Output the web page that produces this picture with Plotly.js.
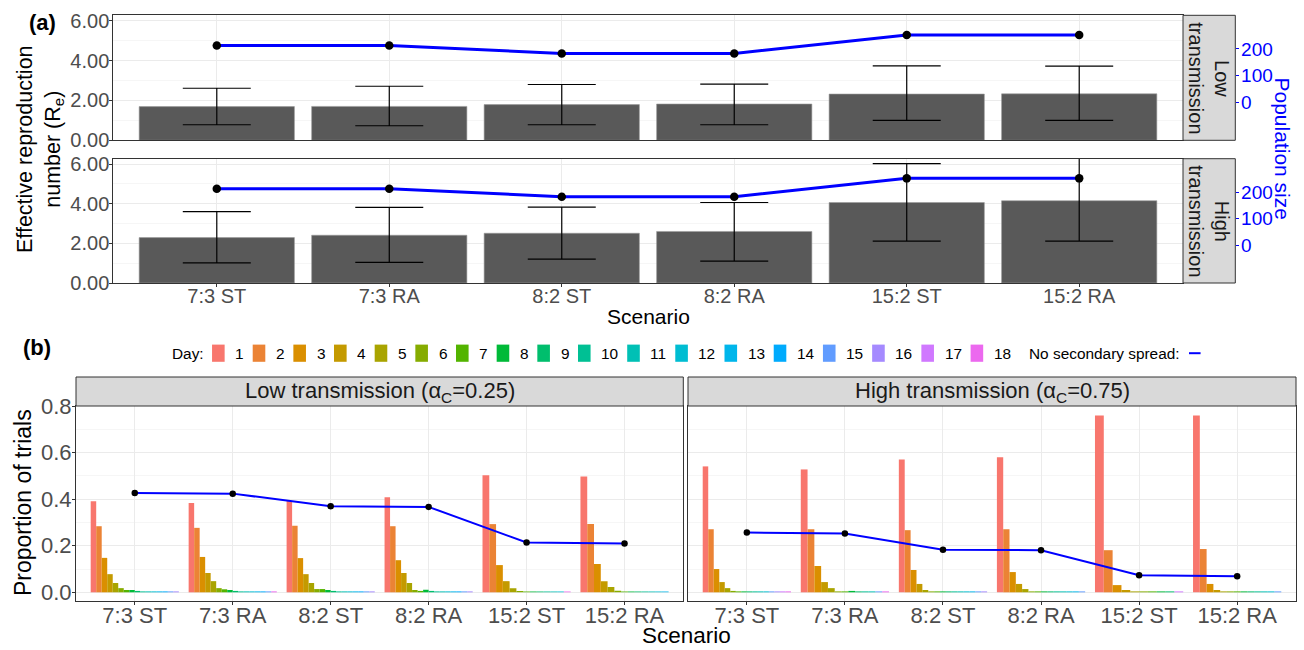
<!DOCTYPE html>
<html><head><meta charset="utf-8">
<script src="https://cdn.plot.ly/plotly-3.0.1.min.js"></script>
<style>body{margin:0;background:#fff}#chart{width:1304px;height:650px}</style>
</head><body><div id="chart"></div>
<script>
// ---------------- DATA ----------------
const scenarios = ['7:3 ST','7:3 RA','8:2 ST','8:2 RA','15:2 ST','15:2 RA'];
// panel (a): effective reproduction number
const reLow      = [1.69, 1.70, 1.79, 1.82, 2.32, 2.33];
const reLowUpper = [2.61, 2.71, 2.80, 2.82, 3.73, 3.72];
const reLowLower = [0.78, 0.73, 0.78, 0.78, 1.00, 1.00];
const reHigh      = [2.29, 2.41, 2.51, 2.60, 4.06, 4.15];
const reHighUpper = [3.60, 3.81, 3.83, 4.06, 6.02, 6.45];
const reHighLower = [1.02, 1.04, 1.20, 1.10, 2.11, 2.11];
const popSize = [213, 213, 183, 183, 252, 252];
// panel (b): proportion of trials by day of first secondary spread
const dayLabels = ['1','2','3','4','5','6','7','8','9','10','11','12','13','14','15','16','17','18'];
const low_73ST  = [0.391,0.284,0.148,0.078,0.040,0.018,0.010,0.010,0.006,0.004,0.004,0.004,0.004,0.004,0.004,0.004,null,null];
const low_73RA  = [0.384,0.277,0.152,0.083,0.048,0.018,0.013,0.010,0.006,0.004,0.004,0.004,0.004,0.004,0.004,null,null,0.004];
const low_82ST  = [0.392,0.286,0.147,0.078,0.040,0.014,0.014,0.010,0.006,0.004,0.004,0.004,0.004,0.004,0.004,0.004,null,null];
const low_82RA  = [0.408,0.284,0.138,0.083,0.040,0.010,0.006,0.011,0.006,0.004,0.004,0.004,0.004,0.004,0.004,0.004,null,null];
const low_152ST = [0.503,0.293,0.117,0.048,0.018,0.006,0.004,0.004,0.004,0.004,0.004,0.004,null,null,null,null,null,0.004];
const low_152RA = [0.498,0.293,0.122,0.048,0.023,0.007,0.004,0.004,0.004,0.004,0.004,0.004,0.004,null,null,null,null,null];
const high_73ST  = [0.541,0.271,0.100,0.044,0.018,0.006,0.004,0.004,0.004,0.004,0.004,0.004,null,null,0.004,0.004,0.004,0.004];
const high_73RA  = [0.528,0.271,0.113,0.044,0.018,0.004,0.004,0.006,0.004,0.004,0.004,null,null,null,0.004,null,null,0.004];
const high_82ST  = [0.571,0.267,0.096,0.036,0.010,0.004,0.004,0.004,0.004,0.004,0.004,0.004,0.004,null,0.004,0.004,null,null];
const high_82RA  = [0.580,0.271,0.087,0.036,0.014,0.004,0.004,0.004,0.004,0.004,0.004,0.004,0.004,null,0.004,null,null,null];
const high_152ST = [0.760,0.181,0.031,0.010,0.004,0.004,0.004,0.004,0.004,null,null,null,null,null,null,null,0.004,null];
const high_152RA = [0.760,0.186,0.036,0.010,0.004,0.004,0.004,0.004,0.004,0.004,0.004,0.004,null,null,0.004,null,null,null];
const noSpreadLow  = [0.427, 0.424, 0.370, 0.367, 0.214, 0.210];
const noSpreadHigh = [0.257, 0.253, 0.183, 0.181, 0.073, 0.069];

// ---------------- HELPERS ----------------
const W = 1304, H = 650;
const fx = p => p / W, fy = p => 1 - p / H;
const FONT = 'Liberation Sans, Arial, sans-serif';
const TICKC = '#4D4D4D', LINEC = '#333333', GRID = '#EBEBEB', MINOR = '#F4F4F4';

function hcl2hex(h, c, l) {
  const hr = h * Math.PI / 180;
  const U = c * Math.cos(hr), V = c * Math.sin(hr);
  const Y = l > 8 ? Math.pow((l + 16) / 116, 3) : l / 903.3;
  const un = 0.1978398, vn = 0.4683363;
  const u = U / (13 * l) + un, v = V / (13 * l) + vn;
  const X = 9 * Y * u / (4 * v);
  const Z = Y * (12 - 3 * u - 20 * v) / (4 * v);
  const lin = [3.240479*X - 1.537150*Y - 0.498535*Z,
              -0.969256*X + 1.875992*Y + 0.041556*Z,
               0.055648*X - 0.204043*Y + 1.057311*Z];
  return '#' + lin.map(t => {
    let g = t <= 0.0031308 ? 12.92 * t : 1.055 * Math.pow(Math.max(t,0), 1/2.4) - 0.055;
    g = Math.min(1, Math.max(0, g));
    return Math.round(g * 255).toString(16).padStart(2, '0');
  }).join('');
}
const dayColors = dayLabels.map((d, i) => hcl2hex(15 + i * 360 / 21, 100, 65));

// ---------------- TRACES ----------------
const traces = [];
const barA = (y, up, lo, xa, ya) => ({
  type: 'bar', x: scenarios, y: y, width: 0.9, xaxis: xa, yaxis: ya,
  marker: {color: '#595959', line: {color: '#9a9a9a', width: 0.6}},
  error_y: {type: 'data', symmetric: false,
    array: up.map((u, i) => u - y[i]), arrayminus: lo.map((l, i) => y[i] - l),
    color: '#000', thickness: 1.2, width: 34},
  showlegend: false, hoverinfo: 'skip'
});
traces.push(barA(reLow, reLowUpper, reLowLower, 'x', 'y'));
traces.push(barA(reHigh, reHighUpper, reHighLower, 'x2', 'y3'));
const popTrace = (xa, ya) => ({
  type: 'scatter', mode: 'lines+markers', x: scenarios, y: popSize, xaxis: xa, yaxis: ya,
  line: {color: '#0000FF', width: 3}, marker: {color: '#000', size: 8.5},
  showlegend: false, hoverinfo: 'skip'
});
traces.push(popTrace('x', 'y2'));
traces.push(popTrace('x2', 'y4'));

function dayBars(series, xa, ya) {
  dayLabels.forEach((lab, d) => {
    const t = {type: 'bar', x: [], y: [], width: [], offset: [], xaxis: xa, yaxis: ya,
      marker: {color: dayColors[d]}, showlegend: false, hoverinfo: 'skip', name: lab};
    series.forEach((arr, s) => {
      if (arr[d] === null) return;
      const present = arr.map((v, i) => v === null ? -1 : i).filter(i => i >= 0);
      const n = present.length, k = present.indexOf(d), w = 0.9 / n;
      t.x.push(scenarios[s]); t.y.push(arr[d]); t.width.push(w); t.offset.push(-0.45 + k * w);
    });
    traces.push(t);
  });
}
dayBars([low_73ST, low_73RA, low_82ST, low_82RA, low_152ST, low_152RA], 'x3', 'y5');
dayBars([high_73ST, high_73RA, high_82ST, high_82RA, high_152ST, high_152RA], 'x4', 'y6');
const spreadTrace = (y, xa, ya) => ({
  type: 'scatter', mode: 'lines+markers', x: scenarios, y: y, xaxis: xa, yaxis: ya,
  line: {color: '#0000FF', width: 2}, marker: {color: '#000', size: 6.5},
  showlegend: false, hoverinfo: 'skip'
});
traces.push(spreadTrace(noSpreadLow, 'x3', 'y5'));
traces.push(spreadTrace(noSpreadHigh, 'x4', 'y6'));

// ---------------- AXES ----------------
const popOffset = 1.9, popPerRe = 74.6;
const reRange = [0, 6.27];
const popRange = reRange.map(r => (r - popOffset) * popPerRe);
const xBase = (dom, anchor, labels, size) => ({
  domain: dom, anchor: anchor, type: 'category', categoryorder: 'array', categoryarray: scenarios,
  range: [-0.6, 5.6], showgrid: true, gridcolor: GRID, gridwidth: 1, zeroline: false,
  showline: true, mirror: true, linecolor: LINEC, linewidth: 1,
  showticklabels: labels, ticks: labels ? 'outside' : '', ticklen: 3, tickcolor: LINEC,
  ticklabelstandoff: -8,
  tickfont: {size: size, color: TICKC, family: FONT}, fixedrange: true
});
const yRe = (dom, anchor) => ({
  domain: dom, anchor: anchor, range: reRange, tickvals: [0, 2, 4, 6], tickformat: '.2f',
  ticks: 'outside', ticklen: 3, tickcolor: LINEC, tickfont: {size: 20, color: TICKC, family: FONT},
  ticklabelstandoff: -4,
  showgrid: true, gridcolor: GRID, gridwidth: 1, zeroline: false,
  minor: {tick0: 0, dtick: 1, showgrid: true, gridcolor: MINOR, gridwidth: 0.8, ticks: ''},
  showline: true, mirror: true, linecolor: LINEC, linewidth: 1, fixedrange: true
});
const yPop = (over) => ({
  overlaying: over, side: 'right', anchor: 'free', position: fx(1235.3),
  range: popRange, tickvals: [0, 100, 200], ticks: 'outside', ticklen: 3, tickcolor: '#0000FF',
  ticklabelstandoff: -2,
  tickfont: {size: 19, color: '#0000FF', family: FONT}, showgrid: false, zeroline: false,
  showline: false, fixedrange: true
});
const yProp = (dom, anchor, labels) => ({
  domain: dom, anchor: anchor, range: [-0.0373, 0.8005], tick0: 0, dtick: 0.2, tickformat: '.1f',
  showticklabels: labels, ticks: labels ? 'outside' : '', ticklen: 3, tickcolor: LINEC,
  ticklabelstandoff: -4,
  tickfont: {size: 22, color: TICKC, family: FONT},
  showgrid: true, gridcolor: GRID, gridwidth: 1, zeroline: false,
  minor: {tick0: 0, dtick: 0.1, showgrid: true, gridcolor: MINOR, gridwidth: 0.8, ticks: ''},
  showline: true, mirror: true, linecolor: LINEC, linewidth: 1, fixedrange: true
});

const domA = [fx(113.3), fx(1182.7)];
const layout = {
  width: W, height: H, margin: {l: 0, r: 0, t: 0, b: 0},
  paper_bgcolor: '#fff', plot_bgcolor: '#fff', font: {family: FONT, color: '#000'},
  barmode: 'overlay', bargap: 0.1, hovermode: false, showlegend: false,
  xaxis:  xBase(domA, 'y', false, 20),
  yaxis:  yRe([fy(140.3), fy(15.3)], 'x'),
  yaxis2: yPop('y'),
  xaxis2: xBase(domA, 'y3', true, 20),
  yaxis3: yRe([fy(283), fy(158.7)], 'x2'),
  yaxis4: yPop('y3'),
  xaxis3: xBase([fx(76), fx(683.3)], 'y5', true, 22),
  yaxis5: yProp([fy(601), fy(406)], 'x3', true),
  xaxis4: xBase([fx(688), fx(1296)], 'y6', true, 22),
  yaxis6: yProp([fy(601), fy(406)], 'x4', false),
  shapes: [], annotations: []
};

const rectPx = (x0, y0, x1, y1, fill, lc, lw) => ({type: 'rect', xref: 'paper', yref: 'paper',
  x0: fx(x0), x1: fx(x1), y0: fy(y1), y1: fy(y0), fillcolor: fill,
  line: {color: lc, width: lw}, layer: 'above'});
const annPx = (x, y, text, size, opts) => Object.assign({xref: 'paper', yref: 'paper',
  x: fx(x), y: fy(y), text: text, showarrow: false, xanchor: 'center', yanchor: 'middle',
  font: {size: size, color: '#000', family: FONT}}, opts || {});

// strips panel (a)
layout.shapes.push(rectPx(1183, 15.3, 1235.3, 140.3, '#D9D9D9', LINEC, 1));
layout.shapes.push(rectPx(1183, 158.7, 1235.3, 283, '#D9D9D9', LINEC, 1));
layout.annotations.push(annPx(1209.5, 77.8, 'Low<br>transmission', 20, {textangle: 90, font: {size: 20, color: '#1A1A1A', family: FONT}}));
layout.annotations.push(annPx(1209.5, 220.8, 'High<br>transmission', 20, {textangle: 90, font: {size: 20, color: '#1A1A1A', family: FONT}}));
// strips panel (b)
layout.shapes.push(rectPx(76, 377, 683.3, 406, '#D9D9D9', LINEC, 1));
layout.shapes.push(rectPx(688, 377, 1296, 406, '#D9D9D9', LINEC, 1));
layout.annotations.push(annPx(379.7, 391.5, 'Low transmission (\u03B1<sub>C</sub>=0.25)', 22, {font: {size: 22, color: '#1A1A1A', family: FONT}}));
layout.annotations.push(annPx(992, 391.5, 'High transmission (\u03B1<sub>C</sub>=0.75)', 22, {font: {size: 22, color: '#1A1A1A', family: FONT}}));

// titles
layout.annotations.push(annPx(42, 23, '<b>(a)</b>', 22));
layout.annotations.push(annPx(37, 347, '<b>(b)</b>', 22));
layout.annotations.push(annPx(40, 149, 'Effective reproduction<br>number (R<sub>e</sub>)', 21.5, {textangle: -90}));
layout.annotations.push(annPx(648, 316, 'Scenario', 21));
layout.annotations.push(annPx(1281.5, 148, 'Population size', 21, {textangle: 90, font: {size: 21, color: '#0000FF', family: FONT}}));
layout.annotations.push(annPx(23, 503, 'Proportion of trials', 23, {textangle: -90}));
layout.annotations.push(annPx(686, 649, 'Scenario', 22.5, {yanchor: 'bottom', borderpad: 0}));

// legend for panel (b)
const LF = 15.4;
const ctx = document.createElement('canvas').getContext('2d');
ctx.font = LF + "px 'Liberation Sans'";
const tw = s => ctx.measureText(s).width;
const legY = 353.2;
let cx = 171.1;
layout.annotations.push(annPx(cx, legY, 'Day:', LF, {xanchor: 'left', borderpad: 0}));
cx += tw('Day:') + 9.3;
dayLabels.forEach((lab, d) => {
  layout.shapes.push(rectPx(cx, legY - 8.6, cx + 12.6, legY + 8.6, dayColors[d], dayColors[d], 0));
  cx += 12.6 + 9.6;
  layout.annotations.push(annPx(cx, legY, lab, LF, {xanchor: 'left', borderpad: 0}));
  cx += tw(lab) + 9.9;
});
cx += 18.5 - 9.9;
const nsText = 'No secondary spread:';
layout.annotations.push(annPx(cx, legY, nsText, LF, {xanchor: 'left', borderpad: 0}));
cx += tw(nsText) + 10;
layout.shapes.push({type: 'line', xref: 'paper', yref: 'paper', x0: fx(cx), x1: fx(cx + 11.6),
  y0: fy(legY), y1: fy(legY), line: {color: '#0000FF', width: 2}});

Plotly.newPlot('chart', traces, layout, {displayModeBar: false, staticPlot: true});
</script></body></html>
